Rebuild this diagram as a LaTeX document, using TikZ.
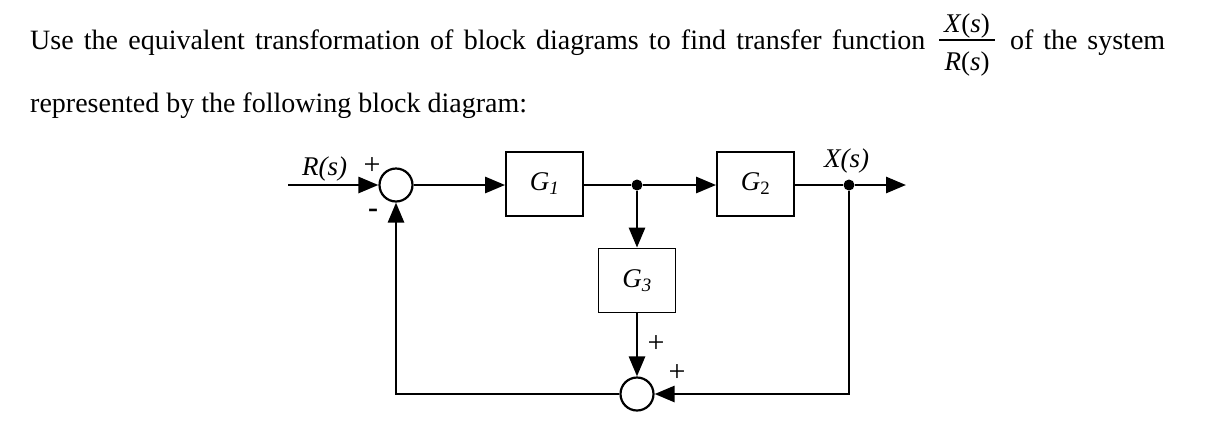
\documentclass[tikz,border=0pt]{standalone}
\usepackage{fontspec}
\setmainfont{Liberation Serif}
\usetikzlibrary{arrows.meta}
\begin{document}
\begin{tikzpicture}[x=1pt,y=-1pt,
  blk/.style={draw, line width=1.8pt, minimum width=77pt, minimum height=64pt, inner sep=0pt, font=\fontsize{27}{27}\selectfont\itshape},
  sumj/.style={draw, circle, line width=2.2pt, minimum size=33pt, inner sep=0pt},
  sig/.style={line width=2.8pt, -{Triangle[length=20pt,width=16pt]}},
  wire/.style={line width=2.8pt},
  bdot/.style={circle, fill, minimum size=11pt, inner sep=0pt},
  txt/.style={inner sep=0pt, font=\fontsize{28}{28}\selectfont},
  lbl/.style={inner sep=0pt, font=\fontsize{27}{27}\selectfont}
]
\useasboundingbox (0,0) rectangle (1205,432);
\fill[white] (0,0) rectangle (1205,432);
% text
\node[txt, anchor=base west] (l1) at (30,49) {\makebox[895pt][s]{Use the equivalent transformation of block diagrams to find transfer function}};
\node[lbl, anchor=base] (fn) at (967,32) {\textit{X}(\textit{s})};
\node[lbl, anchor=base] (fd) at (967,70) {\textit{R}(\textit{s})};
\draw[line width=1.4pt] (939,40) -- (995,40);
\node[txt, anchor=base west] (l1b) at (1010,49) {\makebox[155pt][s]{of the system}};
\node[txt, anchor=base west] (l2) at (30,112) {represented by the following block diagram:};
% blocks
\node[sumj] (s1) at (396,185) {};
\node[blk] (g1) at (544.5,184) {G\textsubscript{\itshape 1}};
\node[bdot] (b1) at (637,185) {};
\node[blk] (g2) at (755.5,184) {G\textsubscript{\upshape 2}};
\node[blk] (g3) at (637,280.5) {G\textsubscript{\itshape 3}};
\node[bdot] (b2) at (849,185) {};
\node[sumj] (s2) at (637,394) {};
\coordinate (in) at (288,185);
\coordinate (out) at (906,185);
% connectors
\draw[sig] (in) -- (s1.west);
\draw[sig] (s1.east) -- (s1.east -| g1.west);
\draw[wire] (g1.east |- b1) -- (b1);
\draw[sig] (b1) -- (b1 -| g2.west);
\draw[sig] (b1) -- (g3.north);
\draw[wire] (g2.east |- b2) -- (b2);
\draw[sig] (b2) -- (out);
\draw[sig] (g3.south) -- (s2.north);
\draw[sig] (b2) |- (s2.east);
\draw[sig] (s2.west) -| (s1.south);
% labels
\node[lbl, anchor=base west, font=\fontsize{27}{27}\selectfont\itshape] (rl) at (302,175) {R(s)};
\node[lbl, font=\fontsize{30}{30}\selectfont] (p1) at (372,166) {+};
\node[lbl, font=\fontsize{30}{30}\selectfont\bfseries] (m1) at (373,213) {-};
\node[lbl, anchor=base west, font=\fontsize{27}{27}\selectfont\itshape] (xl) at (824,167) {X(s)};
\node[lbl, font=\fontsize{30}{30}\selectfont] (p2) at (656,344) {+};
\node[lbl, font=\fontsize{30}{30}\selectfont] (p3) at (677,373) {+};
\end{tikzpicture}
\end{document}
